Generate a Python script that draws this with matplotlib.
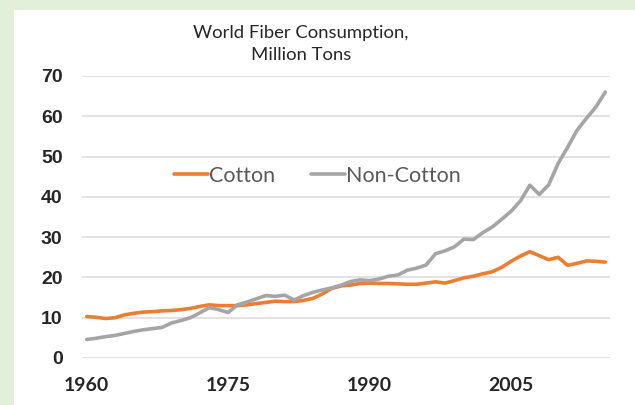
import matplotlib
matplotlib.use("Agg")
import matplotlib.pyplot as plt
from matplotlib.patches import Rectangle
import numpy as np

years = list(range(1960, 2016))

cotton = [10.3, 10.1, 9.8, 10.0, 10.7, 11.1, 11.4, 11.5, 11.7, 11.8,
          12.0, 12.3, 12.8, 13.2, 13.0, 13.0, 13.0, 13.2, 13.5, 13.8,
          14.1, 14.0, 14.0, 14.3, 14.8, 15.9, 17.3, 17.9, 18.1, 18.5,
          18.6, 18.5, 18.5, 18.4, 18.3, 18.3, 18.6, 18.9, 18.6, 19.2,
          19.9, 20.3, 20.9, 21.4, 22.5, 24.0, 25.3, 26.4, 25.4, 24.4,
          25.0, 23.0, 23.5, 24.1, 24.0, 23.8]

non_cotton = [4.6, 4.9, 5.3, 5.6, 6.1, 6.6, 7.0, 7.3, 7.6, 8.7,
              9.3, 10.0, 11.2, 12.5, 12.0, 11.3, 13.2, 13.9, 14.7, 15.5,
              15.3, 15.6, 14.4, 15.5, 16.3, 16.9, 17.4, 18.1, 19.0, 19.4,
              19.2, 19.6, 20.3, 20.6, 21.8, 22.3, 23.1, 25.9, 26.6, 27.6,
              29.5, 29.4, 31.1, 32.5, 34.4, 36.4, 39.0, 42.9, 40.6, 43.0,
              48.3, 52.3, 56.5, 59.5, 62.3, 66.0]

tick_years = [1960, 1975, 1990, 2005]
y_ticks = [0, 10, 20, 30, 40, 50, 60, 70]

W, H = 635, 405
fig = plt.figure(figsize=(W / 100, H / 100), dpi=100)
fig.patch.set_facecolor("#e2efd9")
# white panel inside the green frame
fig.patches.append(Rectangle((14 / W, 0), 1 - 14 / W, 1 - 10 / H,
                             transform=fig.transFigure, facecolor="white",
                             edgecolor="none", zorder=-5))

ax = fig.add_axes([82 / W, 1 - 358 / H, (610 - 82) / W, (358 - 76) / H])
ax.set_zorder(1)
ax.patch.set_alpha(0)

x = np.arange(len(years))
ax.plot(x, cotton, color="#ed7d31", lw=2.6, label="Cotton", solid_capstyle="round")
ax.plot(x, non_cotton, color="#a5a5a5", lw=2.6, label="Non-Cotton", solid_capstyle="round")

ax.set_xlim(-0.5, len(years) - 0.5)
ax.set_ylim(0, 70)
ax.set_yticks(y_ticks)
ax.set_yticklabels([str(v) for v in y_ticks], fontfamily="Liberation Sans",
                   fontweight="bold", fontsize=14, color="#262626")
ax.set_xticks([years.index(y) for y in tick_years])
ax.set_xticklabels([str(y) for y in tick_years], fontfamily="Lato",
                   fontweight="bold", fontsize=14, color="#262626")
ax.tick_params(axis="both", length=0)
ax.tick_params(axis="y", pad=14)
ax.tick_params(axis="x", pad=14)
ax.grid(axis="y", color="#e3dede", lw=1.3)
ax.set_axisbelow(True)
for s in ax.spines.values():
    s.set_visible(False)

fig.text(301 / W, 1 - 33 / H, "World Fiber Consumption,", ha="center", va="center",
         fontfamily="Lato", fontsize=13.3, color="#262626")
fig.text(301 / W, 1 - 55 / H, "Million Tons", ha="center", va="center",
         fontfamily="Lato", fontsize=13.3, color="#262626")

leg = ax.legend(loc="center left", bbox_to_anchor=(174 / W, 1 - 176 / H),
                bbox_transform=fig.transFigure, ncol=2, frameon=False,
                handlelength=1.58, handletextpad=0.05, columnspacing=1.67,
                borderpad=0, borderaxespad=0,
                prop={"family": "Lato", "size": 15.5})
for t in leg.get_texts():
    t.set_color("#595959")

fig.savefig("out.png", dpi=100, facecolor=fig.get_facecolor())
